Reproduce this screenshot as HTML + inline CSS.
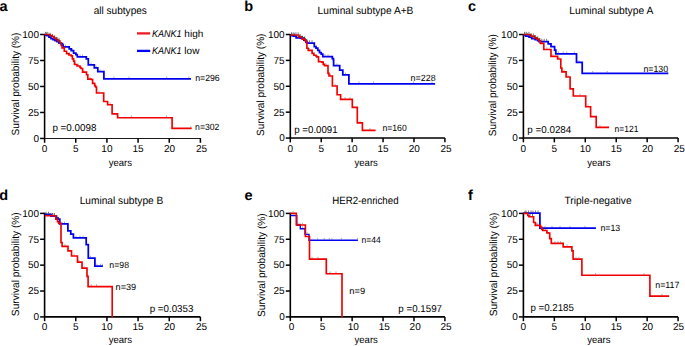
<!DOCTYPE html>
<html><head><meta charset="utf-8"><style>
html,body{margin:0;padding:0;background:#fff;}
svg{display:block;}
text{font-family:"Liberation Sans", sans-serif;fill:#000;text-rendering:geometricPrecision;}
</style></head><body>
<svg width="685" height="346" viewBox="0 0 685 346">
<path d="M44.6,33.9 L44.6,139.04999999999998" fill="none" stroke="#000" stroke-width="1.55"/>
<path d="M44.0,138.45 L200.9,138.45" fill="none" stroke="#1a1a1a" stroke-width="1.15"/>
<line x1="44.60" y1="138.45" x2="44.60" y2="142.75" stroke="#000" stroke-width="1.5"/>
<text x="44.60" y="152.0" font-size="10" text-anchor="middle" font-weight="normal" font-style="normal">0</text>
<line x1="75.76" y1="138.45" x2="75.76" y2="142.75" stroke="#000" stroke-width="1.5"/>
<text x="75.76" y="152.0" font-size="10" text-anchor="middle" font-weight="normal" font-style="normal">5</text>
<line x1="106.92" y1="138.45" x2="106.92" y2="142.75" stroke="#000" stroke-width="1.5"/>
<text x="106.92" y="152.0" font-size="10" text-anchor="middle" font-weight="normal" font-style="normal">10</text>
<line x1="138.08" y1="138.45" x2="138.08" y2="142.75" stroke="#000" stroke-width="1.5"/>
<text x="138.08" y="152.0" font-size="10" text-anchor="middle" font-weight="normal" font-style="normal">15</text>
<line x1="169.24" y1="138.45" x2="169.24" y2="142.75" stroke="#000" stroke-width="1.5"/>
<text x="169.64" y="152.0" font-size="10" text-anchor="middle" font-weight="normal" font-style="normal">20</text>
<line x1="200.40" y1="138.45" x2="200.40" y2="142.75" stroke="#000" stroke-width="1.5"/>
<text x="201.60" y="152.0" font-size="10" text-anchor="middle" font-weight="normal" font-style="normal">25</text>
<line x1="40.1" y1="138.45" x2="44.6" y2="138.45" stroke="#000" stroke-width="1.5"/>
<text x="39.0" y="141.8" font-size="10" text-anchor="end" font-weight="normal" font-style="normal">0</text>
<line x1="40.1" y1="112.46" x2="44.6" y2="112.46" stroke="#000" stroke-width="1.5"/>
<text x="39.0" y="115.8" font-size="10" text-anchor="end" font-weight="normal" font-style="normal">25</text>
<line x1="40.1" y1="86.47" x2="44.6" y2="86.47" stroke="#000" stroke-width="1.5"/>
<text x="39.0" y="89.8" font-size="10" text-anchor="end" font-weight="normal" font-style="normal">50</text>
<line x1="40.1" y1="60.49" x2="44.6" y2="60.49" stroke="#000" stroke-width="1.5"/>
<text x="39.0" y="63.8" font-size="10" text-anchor="end" font-weight="normal" font-style="normal">75</text>
<line x1="40.1" y1="34.50" x2="44.6" y2="34.50" stroke="#000" stroke-width="1.5"/>
<text x="39.0" y="37.8" font-size="10" text-anchor="end" font-weight="normal" font-style="normal">100</text>
<path d="M290.3,33.9 L290.3,138.05 L444.9,138.05" fill="none" stroke="#000" stroke-width="1.6"/>
<line x1="290.30" y1="138.05" x2="290.30" y2="142.35000000000002" stroke="#000" stroke-width="1.5"/>
<text x="290.30" y="151.7" font-size="10" text-anchor="middle" font-weight="normal" font-style="normal">0</text>
<line x1="321.22" y1="138.05" x2="321.22" y2="142.35000000000002" stroke="#000" stroke-width="1.5"/>
<text x="321.22" y="151.7" font-size="10" text-anchor="middle" font-weight="normal" font-style="normal">5</text>
<line x1="352.14" y1="138.05" x2="352.14" y2="142.35000000000002" stroke="#000" stroke-width="1.5"/>
<text x="352.14" y="151.7" font-size="10" text-anchor="middle" font-weight="normal" font-style="normal">10</text>
<line x1="383.06" y1="138.05" x2="383.06" y2="142.35000000000002" stroke="#000" stroke-width="1.5"/>
<text x="383.06" y="151.7" font-size="10" text-anchor="middle" font-weight="normal" font-style="normal">15</text>
<line x1="413.98" y1="138.05" x2="413.98" y2="142.35000000000002" stroke="#000" stroke-width="1.5"/>
<text x="414.38" y="151.7" font-size="10" text-anchor="middle" font-weight="normal" font-style="normal">20</text>
<line x1="444.90" y1="138.05" x2="444.90" y2="142.35000000000002" stroke="#000" stroke-width="1.5"/>
<text x="446.10" y="151.7" font-size="10" text-anchor="middle" font-weight="normal" font-style="normal">25</text>
<line x1="285.8" y1="138.05" x2="290.3" y2="138.05" stroke="#000" stroke-width="1.5"/>
<text x="284.7" y="141.4" font-size="10" text-anchor="end" font-weight="normal" font-style="normal">0</text>
<line x1="285.8" y1="112.16" x2="290.3" y2="112.16" stroke="#000" stroke-width="1.5"/>
<text x="284.7" y="115.5" font-size="10" text-anchor="end" font-weight="normal" font-style="normal">25</text>
<line x1="285.8" y1="86.28" x2="290.3" y2="86.28" stroke="#000" stroke-width="1.5"/>
<text x="284.7" y="89.6" font-size="10" text-anchor="end" font-weight="normal" font-style="normal">50</text>
<line x1="285.8" y1="60.39" x2="290.3" y2="60.39" stroke="#000" stroke-width="1.5"/>
<text x="284.7" y="63.7" font-size="10" text-anchor="end" font-weight="normal" font-style="normal">75</text>
<line x1="285.8" y1="34.50" x2="290.3" y2="34.50" stroke="#000" stroke-width="1.5"/>
<text x="284.7" y="37.8" font-size="10" text-anchor="end" font-weight="normal" font-style="normal">100</text>
<path d="M523.4,33.9 L523.4,138.05 L678.1,138.05" fill="none" stroke="#000" stroke-width="1.6"/>
<line x1="523.40" y1="138.05" x2="523.40" y2="142.35000000000002" stroke="#000" stroke-width="1.5"/>
<text x="523.40" y="151.7" font-size="10" text-anchor="middle" font-weight="normal" font-style="normal">0</text>
<line x1="554.34" y1="138.05" x2="554.34" y2="142.35000000000002" stroke="#000" stroke-width="1.5"/>
<text x="554.34" y="151.7" font-size="10" text-anchor="middle" font-weight="normal" font-style="normal">5</text>
<line x1="585.28" y1="138.05" x2="585.28" y2="142.35000000000002" stroke="#000" stroke-width="1.5"/>
<text x="585.28" y="151.7" font-size="10" text-anchor="middle" font-weight="normal" font-style="normal">10</text>
<line x1="616.22" y1="138.05" x2="616.22" y2="142.35000000000002" stroke="#000" stroke-width="1.5"/>
<text x="616.22" y="151.7" font-size="10" text-anchor="middle" font-weight="normal" font-style="normal">15</text>
<line x1="647.16" y1="138.05" x2="647.16" y2="142.35000000000002" stroke="#000" stroke-width="1.5"/>
<text x="647.56" y="151.7" font-size="10" text-anchor="middle" font-weight="normal" font-style="normal">20</text>
<line x1="678.10" y1="138.05" x2="678.10" y2="142.35000000000002" stroke="#000" stroke-width="1.5"/>
<text x="679.30" y="151.7" font-size="10" text-anchor="middle" font-weight="normal" font-style="normal">25</text>
<line x1="518.9" y1="138.05" x2="523.4" y2="138.05" stroke="#000" stroke-width="1.5"/>
<text x="517.8" y="141.4" font-size="10" text-anchor="end" font-weight="normal" font-style="normal">0</text>
<line x1="518.9" y1="112.16" x2="523.4" y2="112.16" stroke="#000" stroke-width="1.5"/>
<text x="517.8" y="115.5" font-size="10" text-anchor="end" font-weight="normal" font-style="normal">25</text>
<line x1="518.9" y1="86.28" x2="523.4" y2="86.28" stroke="#000" stroke-width="1.5"/>
<text x="517.8" y="89.6" font-size="10" text-anchor="end" font-weight="normal" font-style="normal">50</text>
<line x1="518.9" y1="60.39" x2="523.4" y2="60.39" stroke="#000" stroke-width="1.5"/>
<text x="517.8" y="63.7" font-size="10" text-anchor="end" font-weight="normal" font-style="normal">75</text>
<line x1="518.9" y1="34.50" x2="523.4" y2="34.50" stroke="#000" stroke-width="1.5"/>
<text x="517.8" y="37.8" font-size="10" text-anchor="end" font-weight="normal" font-style="normal">100</text>
<path d="M44.6,212.8 L44.6,316.9 L200.4,316.9" fill="none" stroke="#000" stroke-width="1.6"/>
<line x1="44.60" y1="316.9" x2="44.60" y2="321.2" stroke="#000" stroke-width="1.5"/>
<text x="44.60" y="330.1" font-size="10" text-anchor="middle" font-weight="normal" font-style="normal">0</text>
<line x1="75.76" y1="316.9" x2="75.76" y2="321.2" stroke="#000" stroke-width="1.5"/>
<text x="75.76" y="330.1" font-size="10" text-anchor="middle" font-weight="normal" font-style="normal">5</text>
<line x1="106.92" y1="316.9" x2="106.92" y2="321.2" stroke="#000" stroke-width="1.5"/>
<text x="106.92" y="330.1" font-size="10" text-anchor="middle" font-weight="normal" font-style="normal">10</text>
<line x1="138.08" y1="316.9" x2="138.08" y2="321.2" stroke="#000" stroke-width="1.5"/>
<text x="138.08" y="330.1" font-size="10" text-anchor="middle" font-weight="normal" font-style="normal">15</text>
<line x1="169.24" y1="316.9" x2="169.24" y2="321.2" stroke="#000" stroke-width="1.5"/>
<text x="169.64" y="330.1" font-size="10" text-anchor="middle" font-weight="normal" font-style="normal">20</text>
<line x1="200.40" y1="316.9" x2="200.40" y2="321.2" stroke="#000" stroke-width="1.5"/>
<text x="201.60" y="330.1" font-size="10" text-anchor="middle" font-weight="normal" font-style="normal">25</text>
<line x1="40.1" y1="316.90" x2="44.6" y2="316.90" stroke="#000" stroke-width="1.5"/>
<text x="39.0" y="320.2" font-size="10" text-anchor="end" font-weight="normal" font-style="normal">0</text>
<line x1="40.1" y1="291.02" x2="44.6" y2="291.02" stroke="#000" stroke-width="1.5"/>
<text x="39.0" y="294.3" font-size="10" text-anchor="end" font-weight="normal" font-style="normal">25</text>
<line x1="40.1" y1="265.15" x2="44.6" y2="265.15" stroke="#000" stroke-width="1.5"/>
<text x="39.0" y="268.4" font-size="10" text-anchor="end" font-weight="normal" font-style="normal">50</text>
<line x1="40.1" y1="239.28" x2="44.6" y2="239.28" stroke="#000" stroke-width="1.5"/>
<text x="39.0" y="242.6" font-size="10" text-anchor="end" font-weight="normal" font-style="normal">75</text>
<line x1="40.1" y1="213.40" x2="44.6" y2="213.40" stroke="#000" stroke-width="1.5"/>
<text x="39.0" y="216.7" font-size="10" text-anchor="end" font-weight="normal" font-style="normal">100</text>
<path d="M290.3,212.8 L290.3,316.9 L444.9,316.9" fill="none" stroke="#000" stroke-width="1.6"/>
<line x1="290.30" y1="316.9" x2="290.30" y2="321.2" stroke="#000" stroke-width="1.5"/>
<text x="291.50" y="330.1" font-size="10" text-anchor="middle" font-weight="normal" font-style="normal">0</text>
<line x1="321.22" y1="316.9" x2="321.22" y2="321.2" stroke="#000" stroke-width="1.5"/>
<text x="322.42" y="330.1" font-size="10" text-anchor="middle" font-weight="normal" font-style="normal">5</text>
<line x1="352.14" y1="316.9" x2="352.14" y2="321.2" stroke="#000" stroke-width="1.5"/>
<text x="353.34" y="330.1" font-size="10" text-anchor="middle" font-weight="normal" font-style="normal">10</text>
<line x1="383.06" y1="316.9" x2="383.06" y2="321.2" stroke="#000" stroke-width="1.5"/>
<text x="384.26" y="330.1" font-size="10" text-anchor="middle" font-weight="normal" font-style="normal">15</text>
<line x1="413.98" y1="316.9" x2="413.98" y2="321.2" stroke="#000" stroke-width="1.5"/>
<text x="415.18" y="330.1" font-size="10" text-anchor="middle" font-weight="normal" font-style="normal">20</text>
<line x1="444.90" y1="316.9" x2="444.90" y2="321.2" stroke="#000" stroke-width="1.5"/>
<text x="446.10" y="330.1" font-size="10" text-anchor="middle" font-weight="normal" font-style="normal">25</text>
<line x1="285.8" y1="316.90" x2="290.3" y2="316.90" stroke="#000" stroke-width="1.5"/>
<text x="284.7" y="320.2" font-size="10" text-anchor="end" font-weight="normal" font-style="normal">0</text>
<line x1="285.8" y1="291.02" x2="290.3" y2="291.02" stroke="#000" stroke-width="1.5"/>
<text x="284.7" y="294.3" font-size="10" text-anchor="end" font-weight="normal" font-style="normal">25</text>
<line x1="285.8" y1="265.15" x2="290.3" y2="265.15" stroke="#000" stroke-width="1.5"/>
<text x="284.7" y="268.4" font-size="10" text-anchor="end" font-weight="normal" font-style="normal">50</text>
<line x1="285.8" y1="239.28" x2="290.3" y2="239.28" stroke="#000" stroke-width="1.5"/>
<text x="284.7" y="242.6" font-size="10" text-anchor="end" font-weight="normal" font-style="normal">75</text>
<line x1="285.8" y1="213.40" x2="290.3" y2="213.40" stroke="#000" stroke-width="1.5"/>
<text x="284.7" y="216.7" font-size="10" text-anchor="end" font-weight="normal" font-style="normal">100</text>
<path d="M523.4,212.8 L523.4,316.9 L678.1,316.9" fill="none" stroke="#000" stroke-width="1.6"/>
<line x1="523.40" y1="316.9" x2="523.40" y2="321.2" stroke="#000" stroke-width="1.5"/>
<text x="523.40" y="330.1" font-size="10" text-anchor="middle" font-weight="normal" font-style="normal">0</text>
<line x1="554.34" y1="316.9" x2="554.34" y2="321.2" stroke="#000" stroke-width="1.5"/>
<text x="554.34" y="330.1" font-size="10" text-anchor="middle" font-weight="normal" font-style="normal">5</text>
<line x1="585.28" y1="316.9" x2="585.28" y2="321.2" stroke="#000" stroke-width="1.5"/>
<text x="585.28" y="330.1" font-size="10" text-anchor="middle" font-weight="normal" font-style="normal">10</text>
<line x1="616.22" y1="316.9" x2="616.22" y2="321.2" stroke="#000" stroke-width="1.5"/>
<text x="616.22" y="330.1" font-size="10" text-anchor="middle" font-weight="normal" font-style="normal">15</text>
<line x1="647.16" y1="316.9" x2="647.16" y2="321.2" stroke="#000" stroke-width="1.5"/>
<text x="647.56" y="330.1" font-size="10" text-anchor="middle" font-weight="normal" font-style="normal">20</text>
<line x1="678.10" y1="316.9" x2="678.10" y2="321.2" stroke="#000" stroke-width="1.5"/>
<text x="678.50" y="330.1" font-size="10" text-anchor="middle" font-weight="normal" font-style="normal">25</text>
<line x1="518.9" y1="316.90" x2="523.4" y2="316.90" stroke="#000" stroke-width="1.5"/>
<text x="517.8" y="320.2" font-size="10" text-anchor="end" font-weight="normal" font-style="normal">0</text>
<line x1="518.9" y1="291.02" x2="523.4" y2="291.02" stroke="#000" stroke-width="1.5"/>
<text x="517.8" y="294.3" font-size="10" text-anchor="end" font-weight="normal" font-style="normal">25</text>
<line x1="518.9" y1="265.15" x2="523.4" y2="265.15" stroke="#000" stroke-width="1.5"/>
<text x="517.8" y="268.4" font-size="10" text-anchor="end" font-weight="normal" font-style="normal">50</text>
<line x1="518.9" y1="239.28" x2="523.4" y2="239.28" stroke="#000" stroke-width="1.5"/>
<text x="517.8" y="242.6" font-size="10" text-anchor="end" font-weight="normal" font-style="normal">75</text>
<line x1="518.9" y1="213.40" x2="523.4" y2="213.40" stroke="#000" stroke-width="1.5"/>
<text x="517.8" y="216.7" font-size="10" text-anchor="end" font-weight="normal" font-style="normal">100</text>
<text transform="translate(18.7,84.0) rotate(-90)" x="0" y="0" font-size="10.5" text-anchor="middle" textLength="102.8" lengthAdjust="spacingAndGlyphs">Survival probability (%)</text>
<text transform="translate(264.4,84.8) rotate(-90)" x="0" y="0" font-size="10.5" text-anchor="middle" textLength="102.3" lengthAdjust="spacingAndGlyphs">Survival probability (%)</text>
<text transform="translate(496.4,85.2) rotate(-90)" x="0" y="0" font-size="10.5" text-anchor="middle" textLength="102.0" lengthAdjust="spacingAndGlyphs">Survival probability (%)</text>
<text transform="translate(18.7,264.2) rotate(-90)" x="0" y="0" font-size="10.5" text-anchor="middle" textLength="103.9" lengthAdjust="spacingAndGlyphs">Survival probability (%)</text>
<text transform="translate(264.5,265.1) rotate(-90)" x="0" y="0" font-size="10.5" text-anchor="middle" textLength="103.6" lengthAdjust="spacingAndGlyphs">Survival probability (%)</text>
<text transform="translate(496.5,264.5) rotate(-90)" x="0" y="0" font-size="10.5" text-anchor="middle" textLength="103.7" lengthAdjust="spacingAndGlyphs">Survival probability (%)</text>
<text x="120.4" y="165.7" font-size="10" text-anchor="middle" font-weight="normal" font-style="normal" textLength="23.3" lengthAdjust="spacingAndGlyphs">years</text>
<text x="120.4" y="343.2" font-size="10" text-anchor="middle" font-weight="normal" font-style="normal" textLength="23.3" lengthAdjust="spacingAndGlyphs">years</text>
<text x="366.2" y="165.7" font-size="10" text-anchor="middle" font-weight="normal" font-style="normal" textLength="23.3" lengthAdjust="spacingAndGlyphs">years</text>
<text x="366.2" y="343.2" font-size="10" text-anchor="middle" font-weight="normal" font-style="normal" textLength="23.3" lengthAdjust="spacingAndGlyphs">years</text>
<text x="598.9" y="165.7" font-size="10" text-anchor="middle" font-weight="normal" font-style="normal" textLength="23.3" lengthAdjust="spacingAndGlyphs">years</text>
<text x="598.9" y="343.2" font-size="10" text-anchor="middle" font-weight="normal" font-style="normal" textLength="23.3" lengthAdjust="spacingAndGlyphs">years</text>
<text x="-0.6" y="10.9" font-size="14.5" text-anchor="start" font-weight="bold" font-style="normal">a</text>
<text x="244.2" y="10.8" font-size="14.5" text-anchor="start" font-weight="bold" font-style="normal">b</text>
<text x="468.1" y="10.8" font-size="14.5" text-anchor="start" font-weight="bold" font-style="normal">c</text>
<text x="-0.8" y="199.7" font-size="14.5" text-anchor="start" font-weight="bold" font-style="normal">d</text>
<text x="244.4" y="200.0" font-size="14.5" text-anchor="start" font-weight="bold" font-style="normal">e</text>
<text x="468.0" y="199.7" font-size="14.5" text-anchor="start" font-weight="bold" font-style="normal">f</text>
<text x="120.3" y="14.100000000000001" font-size="10.5" text-anchor="middle" font-weight="normal" font-style="normal" textLength="53.2" lengthAdjust="spacingAndGlyphs">all subtypes</text>
<text x="365.5" y="14.200000000000001" font-size="10.5" text-anchor="middle" font-weight="normal" font-style="normal" textLength="95.8" lengthAdjust="spacingAndGlyphs">Luminal subtype A+B</text>
<text x="611.3" y="14.200000000000001" font-size="10.5" text-anchor="middle" font-weight="normal" font-style="normal" textLength="83.9" lengthAdjust="spacingAndGlyphs">Luminal subtype A</text>
<text x="121.5" y="203.70000000000002" font-size="10.5" text-anchor="middle" font-weight="normal" font-style="normal" textLength="83.7" lengthAdjust="spacingAndGlyphs">Luminal subtype B</text>
<text x="365.4" y="203.60000000000002" font-size="10.5" text-anchor="middle" font-weight="normal" font-style="normal" textLength="66.3" lengthAdjust="spacingAndGlyphs">HER2-enriched</text>
<text x="598.0" y="203.60000000000002" font-size="10.5" text-anchor="middle" font-weight="normal" font-style="normal" textLength="67.2" lengthAdjust="spacingAndGlyphs">Triple-negative</text>
<text x="52.4" y="130.8" font-size="10" text-anchor="start" font-weight="normal" font-style="normal" textLength="44.1" lengthAdjust="spacingAndGlyphs">p =0.0098</text>
<text x="294.3" y="133.0" font-size="10" text-anchor="start" font-weight="normal" font-style="normal" textLength="43.3" lengthAdjust="spacingAndGlyphs">p =0.0091</text>
<text x="527.3" y="132.5" font-size="10" text-anchor="start" font-weight="normal" font-style="normal" textLength="44.0" lengthAdjust="spacingAndGlyphs">p =0.0284</text>
<text x="149.7" y="311.7" font-size="10" text-anchor="start" font-weight="normal" font-style="normal" textLength="43.7" lengthAdjust="spacingAndGlyphs">p =0.0353</text>
<text x="398.3" y="311.5" font-size="10" text-anchor="start" font-weight="normal" font-style="normal" textLength="43.7" lengthAdjust="spacingAndGlyphs">p =0.1597</text>
<text x="530.4" y="311.3" font-size="10" text-anchor="start" font-weight="normal" font-style="normal" textLength="43.5" lengthAdjust="spacingAndGlyphs">p =0.2185</text>
<text x="195.2" y="81.2" font-size="9" text-anchor="start" font-weight="normal" font-style="normal" textLength="24.5" lengthAdjust="spacingAndGlyphs">n=296</text>
<text x="195.1" y="130.0" font-size="9" text-anchor="start" font-weight="normal" font-style="normal" textLength="24.3" lengthAdjust="spacingAndGlyphs">n=302</text>
<text x="410.6" y="80.8" font-size="9" text-anchor="start" font-weight="normal" font-style="normal" textLength="25.0" lengthAdjust="spacingAndGlyphs">n=228</text>
<text x="382.4" y="131.1" font-size="9" text-anchor="start" font-weight="normal" font-style="normal" textLength="24.3" lengthAdjust="spacingAndGlyphs">n=160</text>
<text x="643.4" y="71.6" font-size="9" text-anchor="start" font-weight="normal" font-style="normal" textLength="24.7" lengthAdjust="spacingAndGlyphs">n=130</text>
<text x="614.6" y="131.6" font-size="9" text-anchor="start" font-weight="normal" font-style="normal" textLength="23.9" lengthAdjust="spacingAndGlyphs">n=121</text>
<text x="109.3" y="267.8" font-size="9" text-anchor="start" font-weight="normal" font-style="normal" textLength="19.7" lengthAdjust="spacingAndGlyphs">n=98</text>
<text x="115.6" y="290.3" font-size="9" text-anchor="start" font-weight="normal" font-style="normal" textLength="20.6" lengthAdjust="spacingAndGlyphs">n=39</text>
<text x="361.6" y="242.8" font-size="9" text-anchor="start" font-weight="normal" font-style="normal" textLength="19.2" lengthAdjust="spacingAndGlyphs">n=44</text>
<text x="349.3" y="293.6" font-size="9" text-anchor="start" font-weight="normal" font-style="normal" textLength="15.8" lengthAdjust="spacingAndGlyphs">n=9</text>
<text x="600.4" y="230.7" font-size="9" text-anchor="start" font-weight="normal" font-style="normal" textLength="19.8" lengthAdjust="spacingAndGlyphs">n=13</text>
<text x="655.2" y="287.7" font-size="9" text-anchor="start" font-weight="normal" font-style="normal" textLength="24.3" lengthAdjust="spacingAndGlyphs">n=117</text>
<line x1="137" y1="33.4" x2="150.2" y2="33.4" stroke="#ED1C24" stroke-width="2.3"/>
<line x1="137" y1="50.9" x2="150.2" y2="50.9" stroke="#0000FF" stroke-width="2.3"/>
<text x="152.0" y="36.6" font-size="10"><tspan font-style="italic" textLength="29.6" lengthAdjust="spacingAndGlyphs">KANK1</tspan><tspan> high</tspan></text>
<text x="152.0" y="53.6" font-size="10"><tspan font-style="italic" textLength="29.6" lengthAdjust="spacingAndGlyphs">KANK1</tspan><tspan> low</tspan></text>
<path d="M44.6,35.0 L47.0,35.0 L47.0,35.5 L49.0,35.5 L49.0,37.0 L51.0,37.0 L51.0,38.5 L53.0,38.5 L53.0,39.5 L55.0,39.5 L55.0,40.5 L57.0,40.5 L57.0,41.5 L59.0,41.5 L59.0,43.0 L60.9,43.0 L60.9,43.5 L62.5,43.5 L62.5,45.0 L63.2,45.0 L63.2,46.9 L67.8,46.9 L69.2,46.9 L69.2,48.9 L71.2,48.9 L71.2,50.7 L73.6,50.7 L73.6,53.0 L75.9,53.0 L75.9,54.7 L77.3,54.7 L77.3,56.8 L85.7,56.8 L86.3,56.8 L86.3,58.8 L88.3,58.8 L88.3,59.5 L88.3,64.8 L94.3,64.8 L94.3,67.8 L97.8,67.8 L97.8,71.7 L103.9,71.7 L103.9,78.8 L191.0,78.8" fill="none" stroke="#0000f0" stroke-width="1.75" stroke-linejoin="miter" stroke-linecap="butt"/>
<path d="M44.6,34.5 L48.0,34.5 L50.0,34.5 L50.0,35.5 L52.0,35.5 L52.0,36.5 L54.0,36.5 L54.0,38.0 L56.0,38.0 L56.0,39.5 L58.0,39.5 L58.0,41.0 L60.0,41.0 L60.0,43.0 L61.2,43.0 L61.2,45.5 L62.0,45.5 L62.0,47.8 L64.3,47.8 L64.3,51.2 L66.6,51.2 L66.6,53.6 L68.9,53.6 L68.9,55.0 L71.2,55.0 L71.2,55.9 L72.4,55.9 L72.4,58.8 L73.6,58.8 L73.6,61.1 L74.5,61.1 L74.5,64.5 L77.0,64.5 L77.0,66.0 L80.0,66.0 L80.0,67.5 L81.0,67.5 L81.0,68.5 L82.6,68.5 L82.6,72.1 L86.5,72.1 L86.5,74.7 L87.8,74.7 L87.8,79.1 L91.3,79.1 L91.3,79.5 L92.6,79.5 L92.6,83.4 L94.7,83.4 L94.7,85.6 L95.5,85.6 L95.5,87.0 L96.5,87.0 L96.5,93.0 L103.7,93.0 L103.7,101.5 L107.6,101.5 L107.6,104.7 L112.1,104.7 L112.1,113.8 L117.6,113.8 L117.6,117.7 L172.1,117.7 L172.1,128.4 L191.7,128.4" fill="none" stroke="#f00000" stroke-width="1.65" stroke-linejoin="miter" stroke-linecap="butt"/>
<path d="M290.3,35.5 L293.5,35.5 L293.5,36.0 L296.1,36.0 L296.1,37.8 L300.4,37.8 L300.4,38.2 L303.9,38.2 L303.9,40.0 L306.0,40.0 L306.0,42.1 L307.3,42.1 L307.3,43.0 L312.5,43.0 L314.3,43.0 L314.3,46.5 L316.0,46.5 L316.0,48.2 L317.8,48.2 L317.8,50.4 L319.5,50.4 L319.5,52.5 L321.2,52.5 L321.2,54.0 L322.8,54.0 L322.8,56.5 L331.0,56.5 L332.3,56.5 L332.3,58.7 L333.4,58.7 L333.4,60.0 L333.6,60.0 L333.6,65.6 L339.7,65.6 L339.7,70.0 L342.8,70.0 L342.8,74.8 L348.9,74.8 L348.9,83.8 L435.1,83.8" fill="none" stroke="#0000f0" stroke-width="1.75" stroke-linejoin="miter" stroke-linecap="butt"/>
<path d="M290.3,35.0 L295.2,35.0 L298.7,35.0 L298.7,36.9 L302.1,36.9 L302.1,39.1 L305.2,39.1 L305.2,40.8 L306.5,40.8 L306.5,43.0 L306.9,43.0 L306.9,48.2 L308.2,48.2 L308.2,50.4 L310.8,50.4 L312.1,50.4 L312.1,53.4 L313.9,53.4 L313.9,55.2 L316.0,55.2 L316.0,56.0 L316.7,56.0 L316.7,56.9 L318.5,56.9 L318.5,61.7 L321.9,61.7 L321.9,62.1 L323.2,62.1 L323.2,64.3 L324.5,64.3 L324.5,65.6 L327.1,65.6 L328.0,65.6 L328.0,73.4 L329.0,73.4 L329.0,76.0 L332.4,76.0 L332.4,86.0 L337.1,86.0 L337.1,94.7 L340.6,94.7 L340.6,99.3 L352.3,99.3 L352.3,107.4 L357.3,107.4 L357.3,122.9 L362.4,122.9 L362.4,130.4 L375.6,130.4" fill="none" stroke="#f00000" stroke-width="1.65" stroke-linejoin="miter" stroke-linecap="butt"/>
<path d="M523.4,35.0 L525.6,35.0 L525.6,36.0 L529.1,36.0 L529.1,37.0 L531.7,37.0 L531.7,38.5 L535.1,38.5 L535.1,39.5 L537.7,39.5 L537.7,40.5 L539.0,40.5 L539.0,41.5 L547.3,41.5 L548.2,41.5 L548.2,43.9 L550.8,43.9 L551.0,43.9 L551.0,46.5 L554.6,46.5 L554.6,50.2 L555.8,50.2 L555.8,53.8 L576.5,53.8 L576.5,62.3 L582.2,62.3 L582.2,73.3 L668.3,73.3" fill="none" stroke="#0000f0" stroke-width="1.75" stroke-linejoin="miter" stroke-linecap="butt"/>
<path d="M523.4,34.5 L528.2,34.5 L530.8,34.5 L530.8,36.1 L534.3,36.1 L534.3,37.8 L536.9,37.8 L536.9,39.1 L539.0,39.1 L539.0,40.8 L540.3,40.8 L540.3,43.4 L543.8,43.4 L543.8,49.5 L551.0,49.5 L551.0,56.3 L557.6,56.3 L557.6,59.0 L560.8,59.0 L560.8,68.0 L561.9,68.0 L561.9,71.8 L566.1,71.8 L566.1,77.0 L570.1,77.0 L570.1,88.8 L573.3,88.8 L573.3,96.0 L585.7,96.0 L585.7,106.7 L590.6,106.7 L590.6,116.6 L596.2,116.6 L596.2,127.3 L609.1,127.3" fill="none" stroke="#f00000" stroke-width="1.65" stroke-linejoin="miter" stroke-linecap="butt"/>
<path d="M45.0,214.4 L51.0,214.4 L51.0,216.2 L56.0,216.2 L56.5,216.2 L56.5,218.0 L58.1,218.0 L58.1,219.2 L59.8,219.2 L59.8,221.0 L59.8,223.9 L67.9,223.9 L67.9,230.8 L70.8,230.8 L70.8,234.0 L73.4,234.0 L73.4,237.9 L86.2,237.9 L86.2,244.7 L88.3,244.7 L88.3,258.0 L94.9,258.0 L94.9,266.0 L102.9,266.0" fill="none" stroke="#0000f0" stroke-width="1.75" stroke-linejoin="miter" stroke-linecap="butt"/>
<path d="M45.0,215.7 L55.8,215.7 L55.8,219.2 L57.5,219.2 L57.5,221.6 L58.7,221.6 L58.7,223.3 L61.0,223.3 L61.0,242.5 L62.1,242.5 L62.1,246.4 L68.0,246.4 L68.0,250.8 L71.5,250.8 L71.5,256.0 L77.5,256.0 L77.5,262.1 L82.0,262.1 L82.0,268.1 L87.0,268.1 L87.0,276.3 L88.1,276.3 L88.1,286.6 L112.1,286.6 L112.2,286.6 L112.2,316.9" fill="none" stroke="#f00000" stroke-width="1.65" stroke-linejoin="miter" stroke-linecap="butt"/>
<path d="M290.4,215.6 L296.8,215.6 L296.8,225.0 L300.3,225.0 L300.3,228.7 L305.0,228.7 L305.0,234.3 L309.0,234.3 L309.0,240.2 L357.9,240.2" fill="none" stroke="#0000f0" stroke-width="1.35" stroke-linejoin="miter" stroke-linecap="butt"/>
<path d="M290.4,213.3 L296.3,213.3 L296.3,225.0 L305.4,225.0 L305.4,236.5 L309.5,236.5 L309.5,259.1 L326.3,259.1 L326.3,273.7 L342.0,273.7 L342.0,316.9" fill="none" stroke="#f00000" stroke-width="1.65" stroke-linejoin="miter" stroke-linecap="butt"/>
<path d="M523.4,213.2 L539.9,213.2 L539.9,228.2 L595.9,228.2" fill="none" stroke="#0000f0" stroke-width="1.75" stroke-linejoin="miter" stroke-linecap="butt"/>
<path d="M523.4,213.4 L526.6,213.4 L527.8,213.4 L527.8,215.5 L528.9,215.5 L528.9,216.7 L531.8,216.7 L533.6,216.7 L533.6,218.4 L533.6,222.5 L535.3,222.5 L535.3,225.3 L538.2,225.3 L540.5,225.3 L540.5,227.1 L541.7,227.1 L541.7,229.4 L542.8,229.4 L542.8,230.5 L546.9,230.5 L546.9,232.9 L548.5,232.9 L548.5,233.0 L549.7,233.0 L549.7,238.6 L551.3,238.6 L551.3,243.4 L563.2,243.4 L563.2,246.8 L571.9,246.8 L571.9,250.8 L573.1,250.8 L573.1,259.1 L581.9,259.1 L581.9,275.2 L649.9,275.2 L649.9,296.1 L669.2,296.1" fill="none" stroke="#f00000" stroke-width="1.65" stroke-linejoin="miter" stroke-linecap="butt"/>
<path d="M45.5,33.8V31.8 M47.8,33.8V31.8 M50.1,34.8V32.8 M52.4,35.8V33.8 M54.7,37.3V35.3 M57.0,38.8V36.8 M59.3,40.3V38.3 M61.6,44.8V42.8" stroke="#3a3a3a" stroke-width="0.9" opacity="0.75" fill="none"/>
<path d="M69.5,54.3V52.7 M75.5,63.8V62.2 M78.5,65.3V63.7 M84.0,71.4V69.8 M90.0,78.4V76.8 M99.0,92.3V90.7 M110.0,104.0V102.4 M131.4,117.0V115.4 M166.4,117.0V115.4 M190.8,127.7V126.1" stroke="#3a3a3a" stroke-width="0.9" opacity="0.45" fill="none"/>
<path d="M46.5,34.3V32.3 M49.1,36.3V34.3 M51.7,37.8V35.8 M54.3,38.8V36.8 M56.9,39.8V37.8 M59.5,42.3V40.3" stroke="#3a3a3a" stroke-width="0.9" opacity="0.75" fill="none"/>
<path d="M65.5,46.2V44.6 M72.5,50.0V48.4 M80.0,56.1V54.5 M82.5,56.1V54.5 M91.0,64.1V62.5 M96.0,67.1V65.5 M100.0,71.0V69.4 M113.9,78.1V76.5 M129.0,78.1V76.5 M166.7,78.1V76.5 M188.9,78.1V76.5" stroke="#3a3a3a" stroke-width="0.9" opacity="0.45" fill="none"/>
<path d="M291.5,34.3V32.3 M293.7,34.3V32.3 M295.9,34.3V32.3 M298.1,34.3V32.3 M300.3,36.2V34.2 M302.5,38.4V36.4 M304.7,38.4V36.4" stroke="#3a3a3a" stroke-width="0.9" opacity="0.75" fill="none"/>
<path d="M309.5,49.7V48.1 M320.0,61.0V59.4 M326.0,64.9V63.3 M330.5,75.3V73.7 M335.0,85.3V83.7 M345.0,98.6V97.0 M350.0,98.6V97.0 M360.0,122.2V120.6 M370.0,129.7V128.1" stroke="#3a3a3a" stroke-width="0.9" opacity="0.45" fill="none"/>
<path d="M292.0,34.8V32.8 M294.5,35.3V33.3 M297.0,37.1V35.1 M299.5,37.1V35.1 M302.0,37.5V35.5 M304.5,39.3V37.3 M307.0,41.4V39.4 M309.5,42.3V40.3 M312.0,42.3V40.3" stroke="#3a3a3a" stroke-width="0.9" opacity="0.75" fill="none"/>
<path d="M325.0,55.8V54.2 M328.0,55.8V54.2 M337.0,64.9V63.3 M345.5,74.1V72.5 M358.9,83.1V81.5 M373.5,83.1V81.5 M413.5,83.1V81.5 M432.0,83.1V81.5" stroke="#3a3a3a" stroke-width="0.9" opacity="0.45" fill="none"/>
<path d="M524.5,33.8V31.8 M526.7,33.8V31.8 M528.9,33.8V31.8 M531.1,35.4V33.4 M533.3,35.4V33.4 M535.5,37.1V35.1 M537.7,38.4V36.4 M539.9,40.1V38.1 M542.1,42.7V40.7" stroke="#3a3a3a" stroke-width="0.9" opacity="0.75" fill="none"/>
<path d="M547.0,48.8V47.2 M553.0,55.6V54.0 M559.0,58.3V56.7 M564.0,71.1V69.5 M568.0,76.3V74.7 M580.0,95.3V93.7 M588.0,106.0V104.4 M600.0,126.6V125.0" stroke="#3a3a3a" stroke-width="0.9" opacity="0.45" fill="none"/>
<path d="M525.0,34.3V32.3 M527.4,35.3V33.3 M529.8,36.3V34.3 M532.2,37.8V35.8 M534.6,37.8V35.8 M537.0,38.8V36.8 M539.4,40.8V38.8 M541.8,40.8V38.8 M544.2,40.8V38.8 M546.6,40.8V38.8" stroke="#3a3a3a" stroke-width="0.9" opacity="0.75" fill="none"/>
<path d="M558.4,53.1V51.5 M563.3,53.1V51.5 M566.8,53.1V51.5 M574.4,53.1V51.5 M579.0,61.6V60.0 M592.6,72.6V71.0 M607.2,72.6V71.0 M667.5,72.6V71.0" stroke="#3a3a3a" stroke-width="0.9" opacity="0.45" fill="none"/>
<path d="M47.0,215.0V213.0 M50.0,215.0V213.0 M52.5,215.0V213.0 M54.5,215.0V213.0" stroke="#3a3a3a" stroke-width="0.9" opacity="0.75" fill="none"/>
<path d="M57.0,218.5V216.9 M60.0,222.6V221.0 M65.0,245.7V244.1 M74.0,255.3V253.7 M79.0,261.4V259.8 M84.0,267.4V265.8 M91.2,285.9V284.3 M96.5,285.9V284.3" stroke="#3a3a3a" stroke-width="0.9" opacity="0.45" fill="none"/>
<path d="M46.0,213.7V211.7 M48.5,213.7V211.7 M53.0,215.5V213.5" stroke="#3a3a3a" stroke-width="0.9" opacity="0.75" fill="none"/>
<path d="M58.5,218.5V216.9 M62.0,223.2V221.6 M64.5,223.2V221.6 M76.0,237.2V235.6 M80.0,237.2V235.6 M83.0,237.2V235.6 M90.5,257.3V255.7 M97.0,265.3V263.7 M100.5,265.3V263.7 M102.4,265.3V263.7" stroke="#3a3a3a" stroke-width="0.9" opacity="0.45" fill="none"/>
<path d="M293.0,212.6V211.0 M300.0,224.3V222.7 M302.5,224.3V222.7 M312.0,258.4V256.8 M318.0,258.4V256.8 M330.0,273.0V271.4 M336.0,273.0V271.4" stroke="#3a3a3a" stroke-width="0.9" opacity="0.45" fill="none"/>
<path d="M292.0,214.9V213.3 M294.0,214.9V213.3 M298.0,224.3V222.7 M302.5,228.0V226.4 M307.0,233.6V232.0 M317.7,239.5V237.9 M324.2,239.5V237.9 M329.3,239.5V237.9 M331.9,239.5V237.9 M341.4,239.5V237.9 M357.6,239.5V237.9" stroke="#3a3a3a" stroke-width="0.9" opacity="0.45" fill="none"/>
<path d="M525.0,212.7V210.7 M530.0,216.0V214.0 M532.5,216.0V214.0 M537.0,224.6V222.6" stroke="#3a3a3a" stroke-width="0.9" opacity="0.75" fill="none"/>
<path d="M544.0,229.8V228.2 M545.5,229.8V228.2 M555.0,242.7V241.1 M558.0,242.7V241.1 M560.5,242.7V241.1 M567.0,246.1V244.5 M576.0,258.4V256.8 M579.0,258.4V256.8 M595.5,274.5V272.9 M644.0,274.5V272.9 M662.0,295.4V293.8" stroke="#3a3a3a" stroke-width="0.9" opacity="0.45" fill="none"/>
<path d="M526.0,212.5V210.5 M528.5,212.5V210.5 M531.0,212.5V210.5 M533.0,212.5V210.5 M535.5,212.5V210.5 M538.0,212.5V210.5" stroke="#3a3a3a" stroke-width="0.9" opacity="0.75" fill="none"/>
<path d="M545.0,227.5V225.9 M552.0,227.5V225.9 M560.0,227.5V225.9 M570.0,227.5V225.9 M585.0,227.5V225.9" stroke="#3a3a3a" stroke-width="0.9" opacity="0.45" fill="none"/>
</svg>
</body></html>
